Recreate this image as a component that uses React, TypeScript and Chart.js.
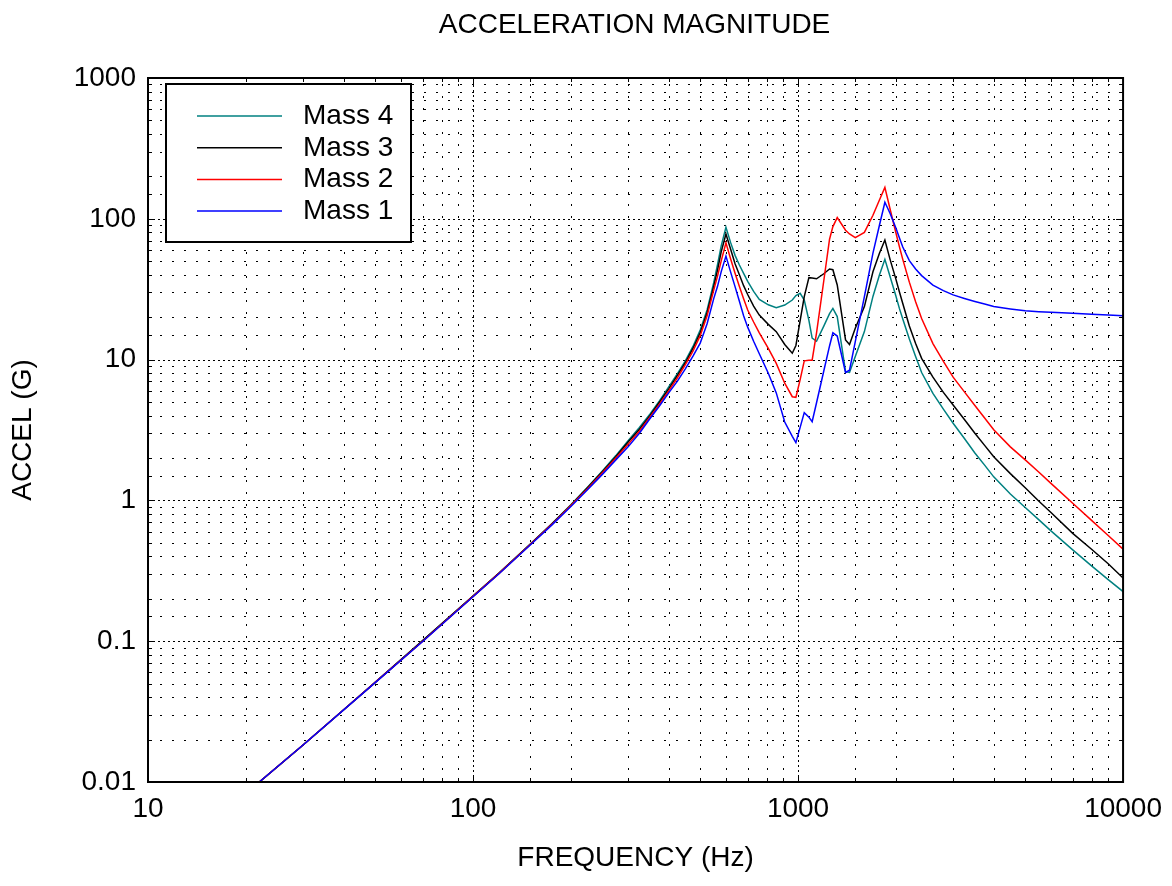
import React, { useEffect, useRef } from 'react';
import { Chart, registerables } from 'chart.js';

Chart.register(...registerables);

// ---------------- data ----------------
const freqHz = [
  22, 30, 40, 50, 70,
  100, 120, 150, 175, 200,
  225, 250, 275, 300, 325,
  350, 375, 400, 425, 450,
  475, 500, 525, 550, 565,
  580, 600, 620, 640, 660,
  680, 700, 730, 760, 810,
  857, 910, 960, 985, 1015,
  1045, 1080, 1105, 1140, 1200,
  1250, 1280, 1320, 1400, 1440,
  1500, 1600, 1700, 1780, 1850,
  1920, 2000, 2050, 2100, 2200,
  2300, 2400, 2600, 2800, 3000,
  3250, 3500, 3750, 4000, 4500,
  5000, 5500, 6000, 7000, 8000,
  9000, 10000,
];

const mass4 = [
  0.01, 0.0183, 0.0326, 0.051, 0.101,
  0.209, 0.304, 0.49, 0.685, 0.93,
  1.24, 1.62, 2.08, 2.65, 3.3,
  4.1, 5.1, 6.4, 7.9, 9.8,
  12.4, 16.2, 22.5, 35, 47,
  64, 87, 68, 55, 47,
  41, 36, 30.5, 26.8, 24.5,
  23.4, 24.4, 26.5, 28.5, 29.6,
  26.5, 19, 14.2, 13.5, 17.3,
  21.2, 23.1, 20.2, 8.2, 8.1,
  10.5, 15.8, 28.1, 39.9, 51.5,
  38.8, 28.3, 23.1, 19.4, 14.0,
  10.5, 8.1, 5.75, 4.45, 3.53,
  2.75, 2.17, 1.78, 1.47, 1.11,
  0.89, 0.73, 0.607, 0.445, 0.343,
  0.274, 0.225,
];

const mass3 = [
  0.01, 0.0183, 0.0326, 0.051, 0.101,
  0.209, 0.303, 0.488, 0.682, 0.925,
  1.23, 1.6, 2.04, 2.6, 3.2,
  4.0, 5.0, 6.2, 7.7, 9.5,
  12, 15.5, 21.5, 33, 43,
  58, 78, 61, 48, 40,
  33.5, 29, 24, 20.7, 17.8,
  15.8, 12.8, 11.1, 12.6, 18.9,
  28, 38.2, 38, 37.5, 40.7,
  44, 43.5, 33.9, 13.8, 12.8,
  16.7, 23.8, 42.1, 56.9, 70.7,
  51.3, 37.3, 30.3, 25.0, 17.3,
  13.0, 10.2, 7.5, 5.85, 4.76,
  3.76, 3.0, 2.46, 2.04, 1.55,
  1.23, 0.99, 0.82, 0.583, 0.45,
  0.355, 0.281,
];

const mass2 = [
  0.01, 0.0183, 0.0326, 0.051, 0.1,
  0.208, 0.302, 0.486, 0.678, 0.92,
  1.21, 1.57, 2.0, 2.5, 3.1,
  3.9, 4.85, 6.0, 7.4, 9.2,
  11.5, 14.8, 20.5, 31, 39,
  50, 67.6, 52, 41, 33,
  27, 22.5, 18.5, 15.5, 12,
  9.4, 6.8, 5.45, 5.4, 7.2,
  9.8, 9.9, 9.9, 15.5, 36.3,
  71.6, 88, 102, 83, 78,
  73.4, 80, 106, 136, 167,
  117, 79.6, 63.4, 51.5, 35.5,
  25.8, 19.6, 13.0, 9.7, 7.5,
  5.9, 4.72, 3.85, 3.18, 2.4,
  1.94, 1.59, 1.32, 0.955, 0.721,
  0.563, 0.451,
];

const mass1 = [
  0.01, 0.0183, 0.0325, 0.0508, 0.0995,
  0.207, 0.300, 0.482, 0.67, 0.905,
  1.19, 1.53, 1.94, 2.4, 3.0,
  3.8, 4.7, 5.8, 7.0, 8.6,
  10.6, 13.1, 18, 27, 33,
  42, 54.4, 42, 33, 26,
  20.5, 17, 13.5, 11, 8,
  5.8, 3.6, 2.85, 2.57, 3.3,
  4.2, 3.9, 3.62, 4.94, 8.3,
  12.5, 15.5, 14.7, 8.1, 8.4,
  13.4, 28, 57, 90, 131,
  109, 86, 73.4, 63, 50.5,
  44, 39.5, 33.8, 30.9, 28.8,
  27.2, 25.9, 24.8, 23.8, 22.9,
  22.2, 21.9, 21.7, 21.3, 21.0,
  20.7, 20.5,
];

const seriesLabels = ['Mass 4', 'Mass 3', 'Mass 2', 'Mass 1'];
const seriesColors = ['#008080', '#000000', '#ff0000', '#0000ff'];
const seriesValues = [mass4, mass3, mass2, mass1];

const xTickLabels = ['10', '100', '1000', '10000'];
const yTickLabels = ['0.01', '0.1', '1', '10', '100', '1000'];

const chartTitle = 'ACCELERATION MAGNITUDE';
const xTitle = 'FREQUENCY (Hz)';
const yTitle = 'ACCEL (G)';

const FONT = '"Liberation Sans", Arial, Helvetica, sans-serif';

function labelFor(value: number, labels: string[]): string {
  const l = Math.log10(value);
  for (const s of labels) {
    if (Math.abs(Math.log10(parseFloat(s)) - l) < 1e-6) return s;
  }
  return '';
}

function isMajor(value: number): boolean {
  const l = Math.log10(value);
  return Math.abs(l - Math.round(l)) < 1e-6;
}

const decorPlugin = {
  id: 'decor',
  beforeDatasetsDraw(chart: any) {
    const { ctx, chartArea: a, scales } = chart;
    const xs = scales.x;
    const ys = scales.y;
    ctx.save();
    ctx.strokeStyle = '#000';
    ctx.lineWidth = 1;
    for (const t of xs.ticks) {
      const px = Math.round(xs.getPixelForValue(t.value)) + 0.5;
      if (px <= a.left + 1.5 || px >= a.right - 1.5) continue;
      ctx.setLineDash(isMajor(t.value) ? [2, 3] : [2, 10]);
      ctx.beginPath();
      ctx.moveTo(px, a.bottom);
      ctx.lineTo(px, a.top);
      ctx.stroke();
    }
    for (const t of ys.ticks) {
      const py = Math.round(ys.getPixelForValue(t.value)) + 0.5;
      if (py <= a.top + 1.5 || py >= a.bottom - 1.5) continue;
      ctx.setLineDash(isMajor(t.value) ? [2, 3] : [2, 10]);
      ctx.beginPath();
      ctx.moveTo(a.left, py);
      ctx.lineTo(a.right, py);
      ctx.stroke();
    }
    ctx.restore();
  },
  afterDraw(chart: any) {
    const { ctx, chartArea: a, scales } = chart;
    const xs = scales.x;
    const ys = scales.y;
    ctx.save();
    ctx.setLineDash([]);
    ctx.strokeStyle = '#000';
    // inward ticks
    ctx.lineWidth = 1;
    for (const t of xs.ticks) {
      const px = Math.round(xs.getPixelForValue(t.value)) + 0.5;
      const len = isMajor(t.value) ? 7 : 4;
      ctx.beginPath();
      ctx.moveTo(px, a.bottom);
      ctx.lineTo(px, a.bottom - len);
      ctx.moveTo(px, a.top);
      ctx.lineTo(px, a.top + len);
      ctx.stroke();
    }
    for (const t of ys.ticks) {
      const py = Math.round(ys.getPixelForValue(t.value)) + 0.5;
      const len = isMajor(t.value) ? 7 : 4;
      ctx.beginPath();
      ctx.moveTo(a.left, py);
      ctx.lineTo(a.left + len, py);
      ctx.moveTo(a.right, py);
      ctx.lineTo(a.right - len, py);
      ctx.stroke();
    }
    // frame
    ctx.lineWidth = 2;
    ctx.strokeRect(a.left, a.top, a.right - a.left, a.bottom - a.top);

    // title
    ctx.fillStyle = '#000';
    ctx.font = `28px ${FONT}`;
    ctx.textAlign = 'center';
    ctx.textBaseline = 'alphabetic';
    ctx.fillText(chartTitle, (a.left + a.right) / 2 - 1, 33);

    // legend
    const bx = 166, by = 84, bw = 245, bh = 158;
    ctx.fillStyle = '#fff';
    ctx.fillRect(bx, by, bw, bh);
    ctx.lineWidth = 2;
    ctx.strokeStyle = '#000';
    ctx.strokeRect(bx, by, bw, bh);
    const ds = chart.data.datasets;
    ctx.textAlign = 'left';
    ctx.font = `28px ${FONT}`;
    for (let i = 0; i < ds.length; i++) {
      const rowY = 116 + i * 31.7;
      ctx.strokeStyle = ds[i].borderColor;
      ctx.lineWidth = 1.5;
      ctx.beginPath();
      ctx.moveTo(197, rowY);
      ctx.lineTo(282, rowY);
      ctx.stroke();
      ctx.fillStyle = '#000';
      ctx.fillText(ds[i].label, 303, rowY + 8);
    }
    ctx.restore();
  },
};

export default function App() {
  const canvasRef = useRef<HTMLCanvasElement | null>(null);

  useEffect(() => {
    document.body.style.margin = '0';
    const canvas = canvasRef.current;
    if (!canvas) return;
    const datasets = seriesLabels.map((label, i) => ({
      label,
      data: freqHz.map((f, j) => ({ x: f, y: seriesValues[i][j] })),
      borderColor: seriesColors[i],
      backgroundColor: seriesColors[i],
      borderWidth: 1.5,
      pointRadius: 0,
      tension: 0,
      fill: false,
      order: seriesLabels.length - i,
    }));

    const chart = new Chart(canvas, {
      type: 'line',
      data: { datasets },
      plugins: [decorPlugin],
      options: {
        animation: false,
        responsive: false,
        devicePixelRatio: 1,
        layout: { padding: { top: 78, right: 48, bottom: 0, left: 0 } },
        plugins: {
          legend: { display: false },
          title: { display: false },
          tooltip: { enabled: false },
        },
        scales: {
          x: {
            type: 'logarithmic',
            min: 10,
            max: 10000,
            grid: { display: false, drawTicks: false },
            border: { display: false },
            ticks: {
              autoSkip: false,
              maxRotation: 0,
              minRotation: 0,
              padding: 10,
              color: '#000',
              font: { family: FONT, size: 28 },
              callback: (v: any) => labelFor(Number(v), xTickLabels),
            },
            title: {
              display: true,
              text: xTitle,
              color: '#000',
              font: { family: FONT, size: 28 },
              padding: { top: 0, bottom: 11 },
            },
            afterFit: (scale: any) => {
              scale.height = 104;
            },
          },
          y: {
            type: 'logarithmic',
            min: 0.01,
            max: 1000,
            grid: { display: false, drawTicks: false },
            border: { display: false },
            ticks: {
              autoSkip: false,
              padding: 12,
              color: '#000',
              font: { family: FONT, size: 28 },
              callback: (v: any) => labelFor(Number(v), yTickLabels),
            },
            title: {
              display: true,
              text: yTitle,
              color: '#000',
              font: { family: FONT, size: 28 },
              padding: { top: 6.5, bottom: 0 },
            },
            afterFit: (scale: any) => {
              scale.width = 148;
            },
          },
        },
      },
    });
    return () => chart.destroy();
  }, []);

  return (
    <div style={{ position: 'absolute', left: 0, top: 0, width: 1172, height: 886, background: '#fff' }}>
      <canvas ref={canvasRef} width={1172} height={886} style={{ display: 'block' }} />
    </div>
  );
}
